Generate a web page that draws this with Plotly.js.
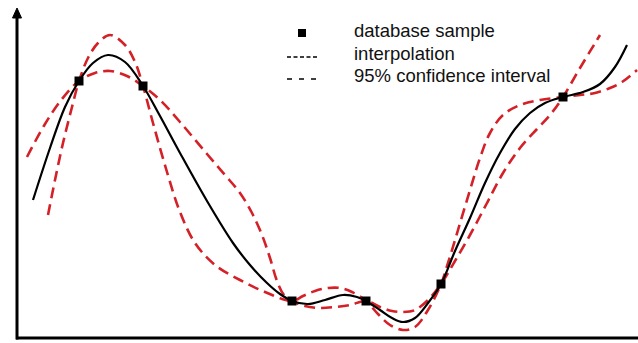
<!DOCTYPE html>
<html>
<head>
<meta charset="utf-8">
<script src="https://cdn.plot.ly/plotly-3.0.1.min.js"></script>
<style>html,body{margin:0;padding:0;background:#fff;}#chart{width:638px;height:343px;}</style>
</head>
<body>
<div id="chart"></div>
<script>
// Database samples
const sampleX = [79, 143, 292, 366, 441, 563];
const sampleY = [262, 257, 42, 42, 59, 246];

// Interpolation curve
const interpX = [33, 50, 65, 79, 93, 108, 125, 143, 160, 180, 207, 233, 250, 267, 280, 292,
  308, 325, 343, 357, 366, 380, 392, 403, 415, 428, 441, 455, 470, 485, 500, 515, 530, 545, 563, 583, 600, 615, 627];
const interpY = [143, 195, 236, 262, 280, 288, 281, 257, 227, 190, 142, 100, 78, 60, 49, 42,
  39, 43, 48, 46, 42, 33, 25, 21, 25, 40, 59, 92, 125, 160, 190, 214, 230, 240, 246, 251, 259, 276, 298];

// 95% confidence interval, bound A
const ciAX = [27, 45, 62, 79, 95, 110, 127, 143, 160, 180, 207, 225, 240, 252, 262, 270, 277, 284, 292,
  305, 320, 335, 350, 366, 380, 392, 403, 415, 428, 441, 455, 470, 487, 503, 520, 537, 550, 563, 580, 600];
const ciAY = [186, 219, 244, 262, 270, 272, 267, 257, 243, 221, 189, 168, 150, 130, 108, 85, 62, 48, 42,
  37, 35, 36, 38, 42, 36, 32, 31, 33, 43, 59, 82, 108, 140, 170, 195, 214, 228, 246, 275, 308];

// 95% confidence interval, bound B
const ciBX = [48, 55, 63, 72, 79, 88, 98, 110, 125, 135, 143, 153, 167, 180, 195, 215, 240, 265, 292,
  303, 315, 328, 340, 352, 366, 378, 390, 403, 415, 428, 441, 448, 458, 470, 480, 490, 503, 520, 540, 563, 580, 595, 610, 622, 637];
const ciBY = [128, 163, 200, 236, 262, 285, 300, 308, 298, 281, 257, 220, 171, 131, 100, 78, 63, 51, 42,
  47, 52, 55, 55, 51, 42, 29, 18, 13, 16, 33, 59, 80, 113, 153, 185, 210, 228, 238, 243, 246, 248, 250, 255, 261, 273];

// Legend labels
const legendLabels = ["database sample", "interpolation", "95% confidence interval"];

const red = '#d42027';
const dashRed = '11px,6px';

const traces = [
  {x: ciAX, y: ciAY, mode: 'lines', line: {color: red, width: 2.6, dash: dashRed, shape: 'spline', smoothing: 1}, hoverinfo: 'skip'},
  {x: ciBX, y: ciBY, mode: 'lines', line: {color: red, width: 2.6, dash: dashRed, shape: 'spline', smoothing: 1}, hoverinfo: 'skip'},
  {x: interpX, y: interpY, mode: 'lines', line: {color: '#000', width: 2.2, shape: 'spline', smoothing: 1}, hoverinfo: 'skip'},
  {x: sampleX, y: sampleY, mode: 'markers', marker: {symbol: 'square', size: 9, color: '#000'}, hoverinfo: 'skip'}
];

const legendFont = {family: 'Liberation Sans, Arial, sans-serif', size: 18.5, color: '#111'};
const legendY = [312.5, 289.5, 267.5];

const layout = {
  width: 638, height: 343,
  margin: {l: 0, r: 0, t: 0, b: 0},
  paper_bgcolor: '#fff', plot_bgcolor: '#fff',
  showlegend: false,
  xaxis: {range: [0, 638], visible: false, fixedrange: true},
  yaxis: {range: [0, 343], visible: false, fixedrange: true},
  shapes: [
    // axes
    {type: 'line', xref: 'x', yref: 'y', x0: 16, x1: 638, y0: 5, y1: 5, line: {color: '#000', width: 3}},
    {type: 'line', xref: 'x', yref: 'y', x0: 17, x1: 17, y0: 3.5, y1: 327, line: {color: '#000', width: 3}},
    {type: 'path', xref: 'x', yref: 'y', path: 'M 12.5,325 L 21.5,325 L 17,335 Z', fillcolor: '#000', line: {color: '#000', width: 1}},
    // legend symbols
    {type: 'rect', xref: 'x', yref: 'y', x0: 298, x1: 306, y0: 306, y1: 314, fillcolor: '#000', line: {width: 0}},
    {type: 'line', xref: 'x', yref: 'y', x0: 287, x1: 317, y0: 286, y1: 286, line: {color: '#000', width: 1.5, dash: '4px,2.5px'}},
    {type: 'line', xref: 'x', yref: 'y', x0: 287, x1: 317, y0: 264, y1: 264, line: {color: '#000', width: 1.5, dash: '5px,7px'}}
  ],
  annotations: legendLabels.map((t, i) => ({
    text: t, xref: 'x', yref: 'y', x: 352, y: legendY[i], xanchor: 'left', yanchor: 'middle',
    showarrow: false, font: legendFont
  }))
};

Plotly.newPlot('chart', traces, layout, {staticPlot: true, displayModeBar: false});
</script>
</body>
</html>
